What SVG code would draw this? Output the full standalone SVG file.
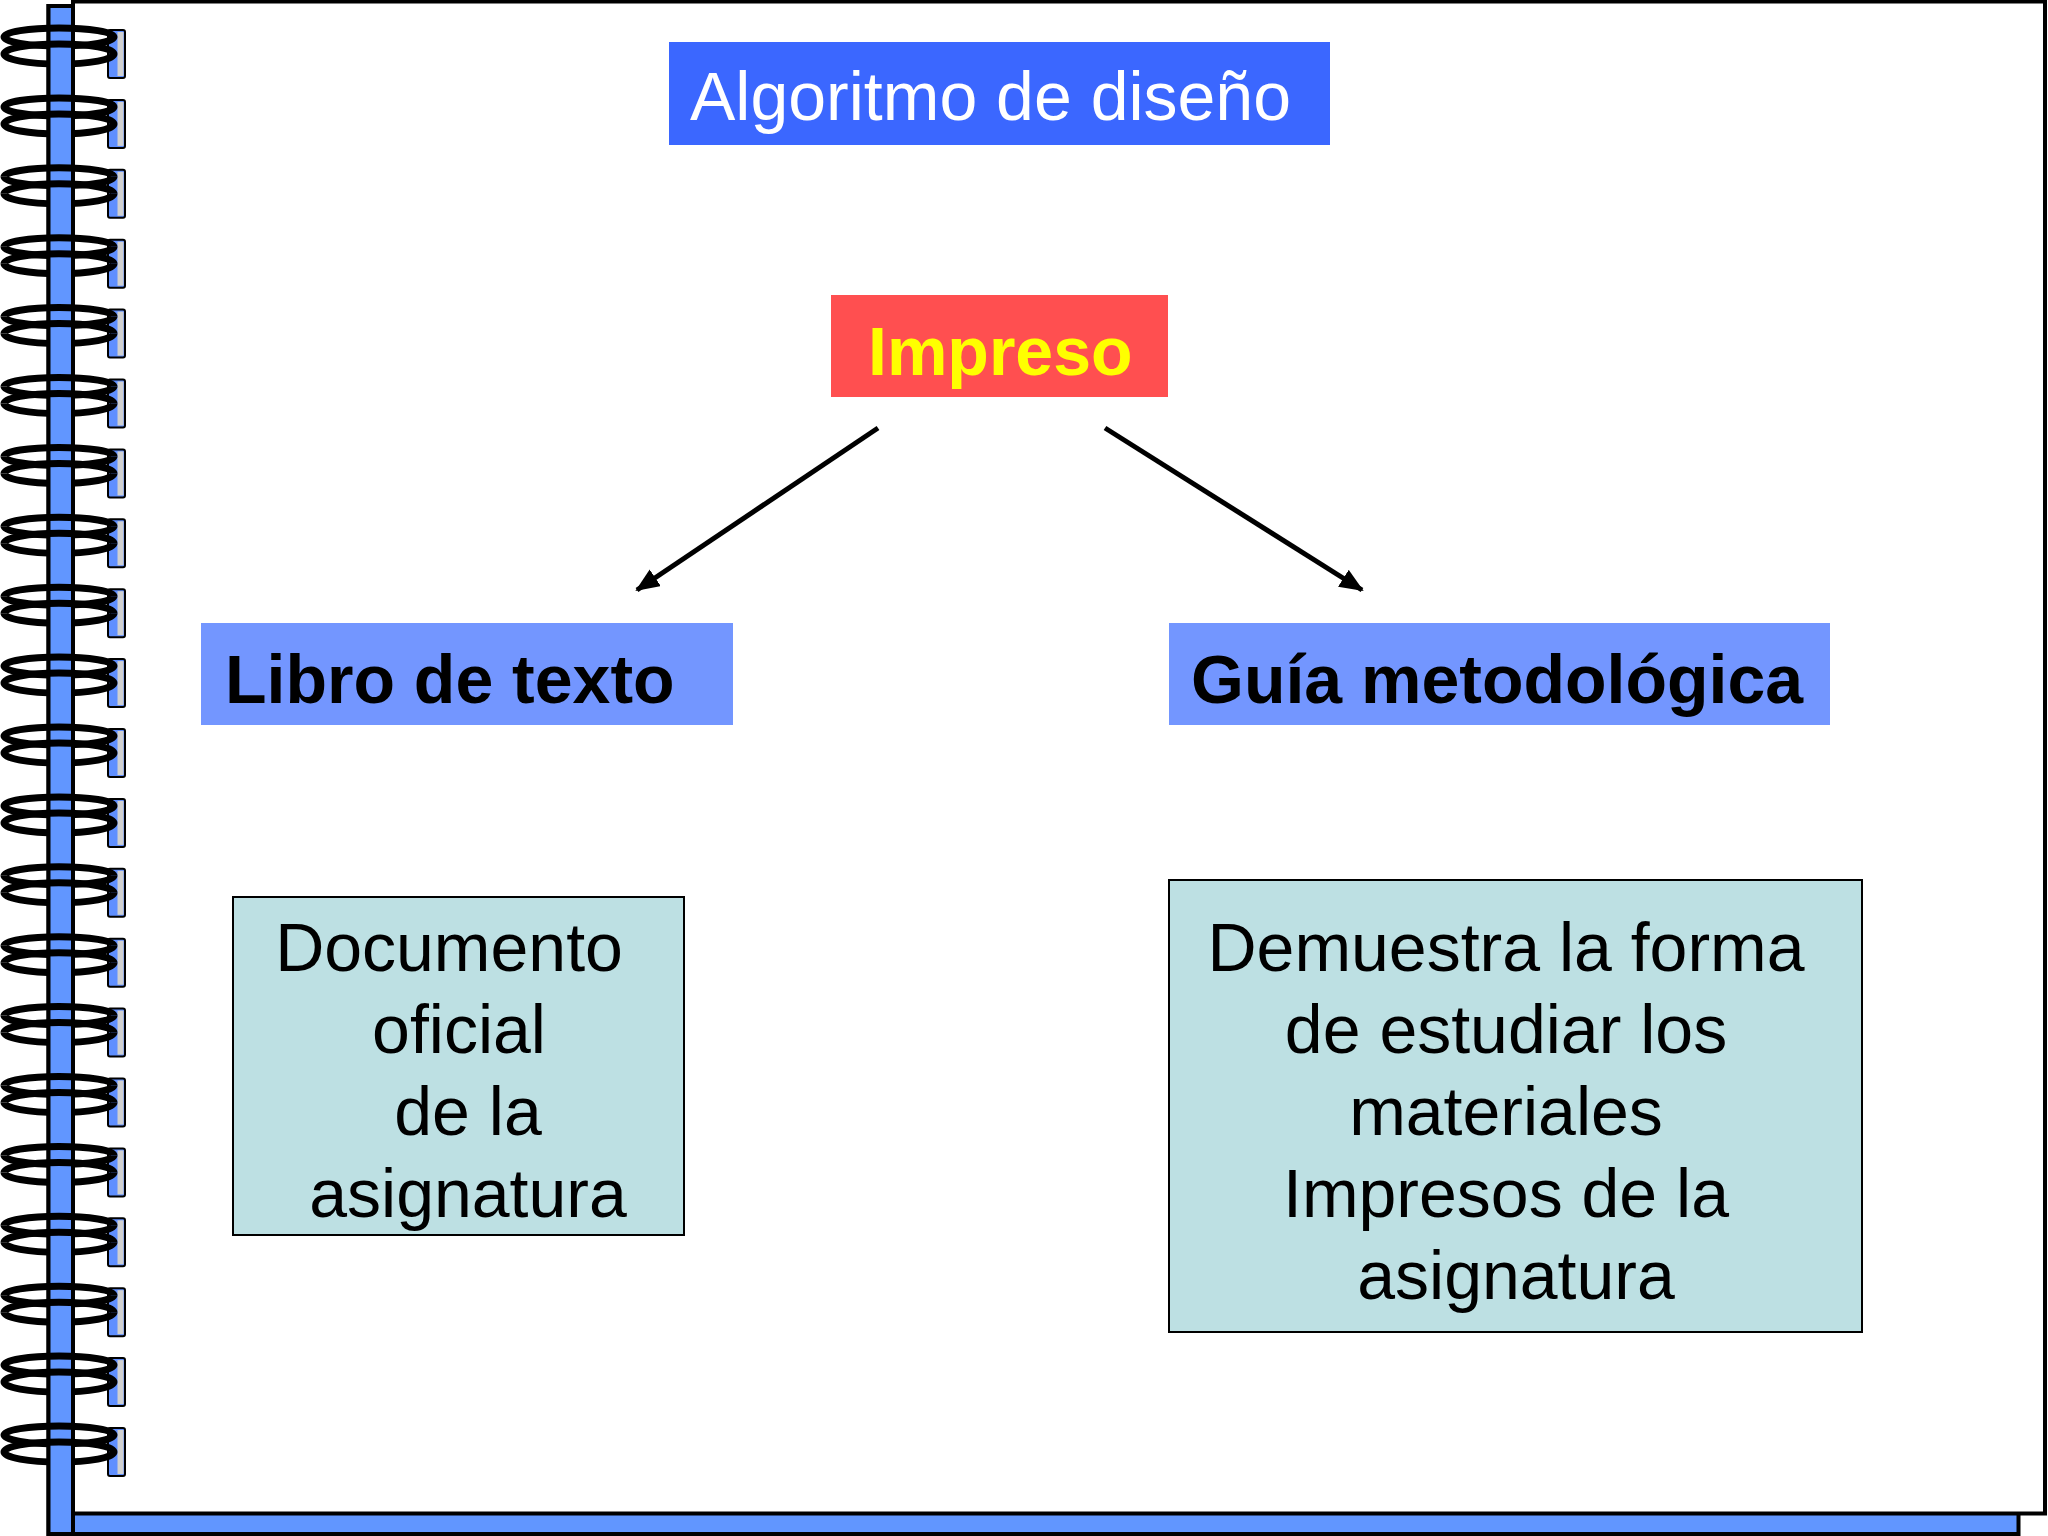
<svg xmlns="http://www.w3.org/2000/svg" xmlns:xlink="http://www.w3.org/1999/xlink" width="2048" height="1536" viewBox="0 0 2048 1536">
<style>
.t{font-family:"Liberation Sans",Arial,sans-serif;font-size:68px}
.b{font-weight:bold}
.ring{fill:none;stroke:#000;stroke-width:7}
.box{stroke:#000;stroke-width:2;fill:#BDE0E3}
.conn{stroke:#000;stroke-width:5;fill:none}
</style>
<defs>
<marker id="ah" markerUnits="userSpaceOnUse" markerWidth="30" markerHeight="24" refX="22" refY="10" orient="auto">
<path d="M0,0 L24,10 L0,20 z" fill="#000"/>
</marker>
<g id="tab">
<rect x="108" y="0" width="17" height="48" rx="2" fill="#5F8FFF" stroke="#000" stroke-width="2"/>
<rect x="117.5" y="2" width="6" height="44" fill="#D0D0D0"/>
</g>
<g id="ringBack">
<path class="ring" d="M4,7 A55,9 0 0 0 114,7"/>
<path class="ring" d="M4,24 A55,10 0 0 0 114,24"/>
</g>
<g id="ringFront">
<path class="ring" d="M4,7 A55,9 0 0 1 114,7"/>
<path class="ring" d="M4,24 A55,10 0 0 1 114,24"/>
</g>
</defs>
<rect width="2048" height="1536" fill="#fff"/>
<g id="notebook">
<rect x="48.5" y="6" width="1970" height="1528" fill="#6196FF" stroke="#000" stroke-width="4"/>
<rect x="73" y="1.5" width="1972" height="1512" fill="#fff" stroke="#000" stroke-width="4"/>
</g>
<g id="tabs">
<use xlink:href="#tab" y="30"/><use xlink:href="#tab" y="99.9"/><use xlink:href="#tab" y="169.8"/><use xlink:href="#tab" y="239.7"/><use xlink:href="#tab" y="309.6"/><use xlink:href="#tab" y="379.5"/><use xlink:href="#tab" y="449.4"/><use xlink:href="#tab" y="519.3"/><use xlink:href="#tab" y="589.2"/><use xlink:href="#tab" y="659.1"/><use xlink:href="#tab" y="729"/><use xlink:href="#tab" y="798.9"/><use xlink:href="#tab" y="868.8"/><use xlink:href="#tab" y="938.7"/><use xlink:href="#tab" y="1008.6"/><use xlink:href="#tab" y="1078.5"/><use xlink:href="#tab" y="1148.4"/><use xlink:href="#tab" y="1218.3"/><use xlink:href="#tab" y="1288.2"/><use xlink:href="#tab" y="1358.1"/><use xlink:href="#tab" y="1428"/>
</g>
<g id="rings-back">
<use xlink:href="#ringBack" y="30"/><use xlink:href="#ringBack" y="99.9"/><use xlink:href="#ringBack" y="169.8"/><use xlink:href="#ringBack" y="239.7"/><use xlink:href="#ringBack" y="309.6"/><use xlink:href="#ringBack" y="379.5"/><use xlink:href="#ringBack" y="449.4"/><use xlink:href="#ringBack" y="519.3"/><use xlink:href="#ringBack" y="589.2"/><use xlink:href="#ringBack" y="659.1"/><use xlink:href="#ringBack" y="729"/><use xlink:href="#ringBack" y="798.9"/><use xlink:href="#ringBack" y="868.8"/><use xlink:href="#ringBack" y="938.7"/><use xlink:href="#ringBack" y="1008.6"/><use xlink:href="#ringBack" y="1078.5"/><use xlink:href="#ringBack" y="1148.4"/><use xlink:href="#ringBack" y="1218.3"/><use xlink:href="#ringBack" y="1288.2"/><use xlink:href="#ringBack" y="1358.1"/><use xlink:href="#ringBack" y="1428"/>
</g>
<rect id="spine" x="48.5" y="6" width="24.5" height="1528" fill="#6196FF" stroke="#000" stroke-width="4"/>
<g id="rings-front">
<use xlink:href="#ringFront" y="30"/><use xlink:href="#ringFront" y="99.9"/><use xlink:href="#ringFront" y="169.8"/><use xlink:href="#ringFront" y="239.7"/><use xlink:href="#ringFront" y="309.6"/><use xlink:href="#ringFront" y="379.5"/><use xlink:href="#ringFront" y="449.4"/><use xlink:href="#ringFront" y="519.3"/><use xlink:href="#ringFront" y="589.2"/><use xlink:href="#ringFront" y="659.1"/><use xlink:href="#ringFront" y="729"/><use xlink:href="#ringFront" y="798.9"/><use xlink:href="#ringFront" y="868.8"/><use xlink:href="#ringFront" y="938.7"/><use xlink:href="#ringFront" y="1008.6"/><use xlink:href="#ringFront" y="1078.5"/><use xlink:href="#ringFront" y="1148.4"/><use xlink:href="#ringFront" y="1218.3"/><use xlink:href="#ringFront" y="1288.2"/><use xlink:href="#ringFront" y="1358.1"/><use xlink:href="#ringFront" y="1428"/>
</g>
<g id="title">
<rect x="669" y="42" width="661" height="103" fill="#3B67FF"/>
<text class="t" x="690" y="120" fill="#fff">Algoritmo de diseño</text>
</g>
<g id="impreso">
<rect x="831" y="295" width="337" height="102" fill="#FF4F50"/>
<text class="t b" x="868" y="375" fill="#FFFF00">Impreso</text>
</g>
<g id="libro">
<rect x="201" y="623" width="532" height="102" fill="#7396FF"/>
<text class="t b" x="225" y="703" fill="#000">Libro de texto</text>
</g>
<g id="guia">
<rect x="1169" y="623" width="661" height="102" fill="#7396FF"/>
<text class="t b" x="1191" y="703" fill="#000">Guía metodológica</text>
</g>
<g id="doc">
<rect class="box" x="233" y="897" width="451" height="338"/>
<text class="t" text-anchor="middle" fill="#000"><tspan x="449" y="971">Documento</tspan><tspan x="459" y="1053">oficial</tspan><tspan x="468" y="1135">de la</tspan><tspan x="468" y="1217">asignatura</tspan></text>
</g>
<g id="demuestra">
<rect class="box" x="1169" y="880" width="693" height="452"/>
<text class="t" text-anchor="middle" fill="#000"><tspan x="1506" y="971">Demuestra la forma</tspan><tspan x="1506" y="1053">de estudiar los</tspan><tspan x="1506" y="1135">materiales</tspan><tspan x="1506" y="1217">Impresos de la</tspan><tspan x="1516" y="1299">asignatura</tspan></text>
</g>
<g id="connectors">
<line class="conn" x1="878" y1="428" x2="637" y2="590" marker-end="url(#ah)"/>
<line class="conn" x1="1105" y1="428" x2="1362" y2="590" marker-end="url(#ah)"/>
</g>
</svg>
